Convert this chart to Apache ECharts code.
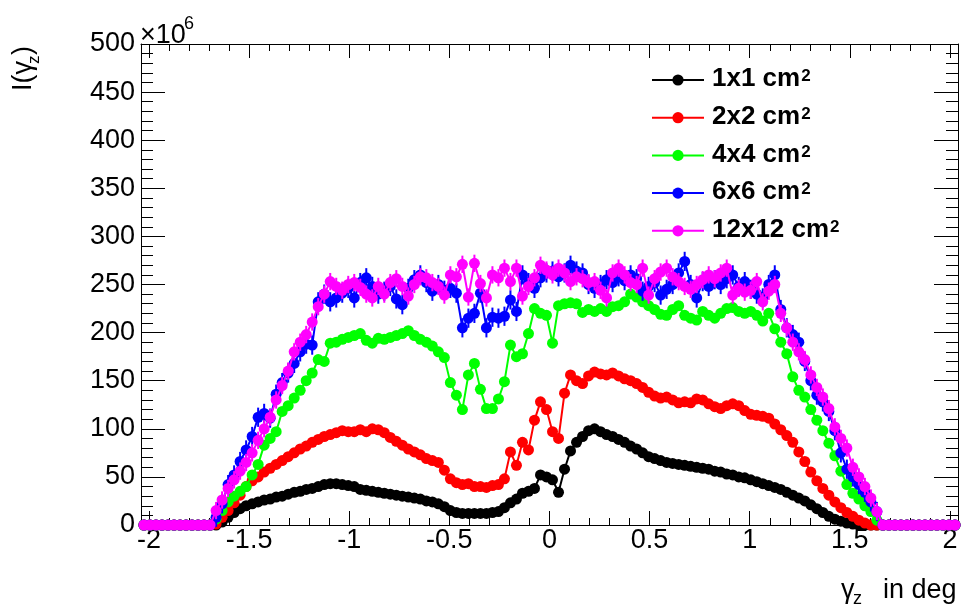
<!DOCTYPE html>
<html>
<head>
<meta charset="utf-8">
<script src="https://cdn.jsdelivr.net/npm/echarts@6/dist/echarts.min.js"></script>
<style>
  html, body { margin: 0; padding: 0; background: #ffffff; }
  #chart { width: 961px; height: 608px; }
</style>
</head>
<body>
<div id="chart"></div>
<script>
// bin centres: 136 bins of 0.03 deg over [-2.04, 2.04]
const gammaZ = [];
for (let i = 0; i < 136; i++) gammaZ.push(+(-2.025 + 0.03 * i).toFixed(3));

const xMajorTicks = [-2, -1.5, -1, -0.5, 0, 0.5, 1, 1.5, 2];
const xMinorTicks = [];
for (let k = -20; k <= 20; k++) if (k % 5 !== 0) xMinorTicks.push(k / 10);

const seriesNames = ['1x1 cm', '2x2 cm', '4x4 cm', '6x6 cm', '12x12 cm'];

// intensities in units of 1e6
const field1x1 = [
  0, 0, 0, 0, 0, 0, 0, 0, 0, 0, 0,
  0, 0, 3, 8, 13, 17, 20, 22, 24, 26,
  27, 29, 30, 32, 34, 35, 37, 38, 40, 42,
  43, 43, 42, 41, 40, 37, 36, 35, 34, 33,
  32, 31, 30, 29, 28, 27, 25, 24, 22, 19,
  15, 13, 12, 12, 12, 12, 12, 13, 14, 18,
  23, 27, 33, 35, 38, 52, 50, 47, 34, 58,
  77, 86, 92, 98, 100, 97, 94, 92, 89, 86,
  82, 79, 75, 71, 69, 67, 65, 64, 63, 62,
  61, 60, 59, 58, 56, 55, 53, 52, 50, 49,
  47, 45, 43, 41, 39, 37, 34, 31, 28, 25,
  21, 17, 13, 9, 6, 4, 2, 1, 0, 0,
  0, 0,
  0, 0, 0, 0, 0, 0, 0, 0, 0, 0, 0, 0, 0
];
const field2x2 = [
  0, 0, 0, 0, 0, 0, 0, 0, 0, 0, 0,
  0, 1, 8, 15, 23, 31, 40, 46, 50, 55,
  59, 63, 67, 71, 75, 79, 82, 86, 89, 92,
  94, 96, 98, 97, 97, 99, 97, 100, 99, 96,
  91, 87, 83, 79, 76, 73, 69, 67, 65, 57,
  48, 44, 42, 43, 40, 40, 39, 41, 42, 48,
  76, 62, 86, 78, 109, 128, 120, 97, 90, 137,
  156, 150, 147, 155, 159, 157, 156, 158, 155, 152,
  150, 147, 143, 138, 134, 132, 133, 130, 127, 128,
  127, 131, 130, 126, 123, 121, 124, 126, 124, 119,
  115, 114, 113, 111, 105, 99, 93, 86, 76, 66,
  55, 46, 38, 31, 24, 18, 13, 9, 5, 2,
  0, 0,
  0, 0, 0, 0, 0, 0, 0, 0, 0, 0, 0, 0, 0
];
const field4x4 = [
  0, 0, 0, 0, 0, 0, 0, 0, 0, 0, 0,
  0, 6, 15, 24, 30, 35, 40, 52, 63, 83,
  90, 97, 118, 124, 132, 140, 150, 158, 172, 170,
  189, 190, 193, 195, 197, 199, 192, 189, 194, 193,
  195, 197, 199, 202, 197, 193, 190, 186, 180, 174,
  148, 135, 120, 156, 168, 141, 121, 121, 131, 149,
  187, 175, 178, 199, 225, 220, 218, 189, 228, 230,
  231, 230, 221, 224, 222, 225, 222, 227, 228, 232,
  240, 237, 232, 228, 224, 219, 218, 224, 228, 218,
  215, 213, 222, 218, 215, 220, 225, 226, 222, 220,
  222, 218, 212, 220, 204, 190, 178, 154, 140, 133,
  120, 109, 98, 85, 72, 56, 42, 33, 27, 20,
  14, 5,
  0, 0, 0, 0, 0, 0, 0, 0, 0, 0, 0, 0, 0
];
const field6x6 = [
  0, 0, 0, 0, 0, 0, 0, 0, 0, 0, 0,
  0, 8, 22, 42, 52, 66, 78, 92, 112, 116,
  111, 136, 148, 158, 168, 180, 188, 187, 232, 240,
  232, 236, 241, 246, 236, 252, 257, 248, 240, 243,
  248, 235, 229, 246, 255, 260, 252, 243, 250, 244,
  246, 241, 205, 215, 220, 241, 205, 216, 215, 217,
  234, 222, 260, 252, 246, 257, 262, 264, 258, 262,
  270, 264, 262, 250, 246, 250, 255, 252, 258, 254,
  260, 256, 243, 248, 252, 239, 245, 250, 262, 274,
  250, 236, 253, 248, 255, 250, 256, 260, 248, 253,
  245, 240, 236, 250, 260, 224, 205, 198, 190, 170,
  150, 135, 128, 118, 98, 75, 58, 50, 42, 34,
  24, 14,
  0, 0, 0, 0, 0, 0, 0, 0, 0, 0, 0, 0, 0
];
const field12x12 = [
  0, 0, 0, 0, 0, 0, 0, 0, 0, 0, 0,
  0, 15, 26, 38, 47, 56, 65, 75, 88, 100,
  112, 130, 145, 160, 180, 190, 198, 211, 227, 240,
  253, 248, 244, 250, 252, 247, 240, 236, 248, 240,
  252, 256, 248, 238, 250, 258, 257, 252, 248, 239,
  260, 258, 271, 237, 272, 251, 236, 260, 257, 267,
  253, 267, 238, 248, 257, 270, 265, 260, 267, 262,
  253, 258, 256, 252, 253, 244, 236, 262, 267, 260,
  252, 250, 267, 239, 256, 263, 267, 258, 253, 248,
  245, 250, 255, 260, 256, 262, 267, 239, 246, 242,
  244, 253, 232, 243, 250, 220, 205, 190, 180, 172,
  156, 143, 133, 121, 102, 90, 80, 60, 50, 40,
  28, 14,
  0, 0, 0, 0, 0, 0, 0, 0, 0, 0, 0, 0, 0
];
// estimated statistical error (same units), only visible on the two largest fields
const statErr6x6 = 10;
const statErr12x12 = 9;

const allFields = [field1x1, field2x2, field4x4, field6x6, field12x12];
const allErrors = [0, 0, 0, statErr6x6, statErr12x12];
const colors = ['#000000', '#ff0000', '#00ff00', '#0000ff', '#ff00ff'];
const FONT = 'Liberation Sans, Arial, Helvetica, sans-serif';

const chart = echarts.init(document.getElementById('chart'), null, { renderer: 'canvas' });

function xAxisDef(pos, ticks, len, withLine, withLabel) {
  return {
    type: 'value', position: pos, min: -2.04, max: 2.04,
    axisLine: { show: withLine, onZero: false, lineStyle: { color: '#000', width: 1 } },
    axisTick: { show: true, inside: true, length: len, customValues: ticks, lineStyle: { color: '#000', width: 1 } },
    axisLabel: withLabel
      ? { show: true, customValues: ticks, fontSize: 27, color: '#000', fontFamily: FONT, margin: 2 }
      : { show: false },
    splitLine: { show: false }
  };
}

function yAxisDef(pos, withLabel) {
  return {
    type: 'value', position: pos, min: 0, max: 500, interval: 50,
    axisLine: { show: true, onZero: false, lineStyle: { color: '#000', width: 1 } },
    axisTick: { show: true, inside: true, length: 24, lineStyle: { color: '#000', width: 1 } },
    minorTick: { show: true, splitNumber: 5, length: 12, lineStyle: { color: '#000', width: 1 } },
    axisLabel: withLabel
      ? { show: true, fontSize: 27, color: '#000', fontFamily: FONT, margin: 6 }
      : { show: false },
    splitLine: { show: false },
    minorSplitLine: { show: false }
  };
}

const lineSeries = allFields.map((vals, s) => ({
  type: 'line',
  name: seriesNames[s],
  xAxisIndex: 0, yAxisIndex: 0,
  data: gammaZ.map((x, i) => [x, vals[i]]),
  symbol: 'circle', symbolSize: 11,
  showSymbol: true, showAllSymbol: true,
  lineStyle: { color: colors[s], width: 2 },
  itemStyle: { color: colors[s] },
  emphasis: { disabled: true },
  z: 2 + s
}));

const errorSeries = [3, 4].map(s => ({
  type: 'custom',
  xAxisIndex: 0, yAxisIndex: 0,
  silent: true,
  z: 2 + s,
  data: gammaZ.map((x, i) => [x, allFields[s][i]]).filter(d => d[1] > 0),
  renderItem: (params, api) => {
    const x = api.value(0), y = api.value(1);
    const top = api.coord([x, y + allErrors[s]]);
    const bot = api.coord([x, y - allErrors[s]]);
    return {
      type: 'line',
      shape: { x1: top[0], y1: top[1], x2: bot[0], y2: bot[1] },
      style: { stroke: colors[s], lineWidth: 2 }
    };
  }
}));

const option = {
  animation: false,
  backgroundColor: '#ffffff',
  grid: { left: 141, right: 3, top: 44, bottom: 83 },
  xAxis: [
    xAxisDef('bottom', xMajorTicks, 14, true, true),
    xAxisDef('bottom', xMinorTicks, 7, false, false),
    xAxisDef('top', xMajorTicks, 14, true, false),
    xAxisDef('top', xMinorTicks, 7, false, false)
  ],
  yAxis: [yAxisDef('left', true), yAxisDef('right', false)],
  legend: {
    orient: 'vertical', left: 646, top: 61,
    itemWidth: 52, itemHeight: 14, itemGap: 8.7,
    data: seriesNames,
    formatter: name => '{a|' + name + '}{s|2}',
    textStyle: {
      color: '#000', fontFamily: FONT, padding: [0, 0, 0, 3],
      rich: {
        a: { fontSize: 26, fontWeight: 'bold', color: '#000', fontFamily: FONT, lineHeight: 24, verticalAlign: 'bottom' },
        s: { fontSize: 17, fontWeight: 'bold', color: '#000', fontFamily: FONT, verticalAlign: 'top', lineHeight: 17, padding: [0, 0, 10, 1] }
      }
    }
  },
  series: errorSeries.concat(lineSeries),
  graphic: [
    { type: 'text', left: 140, top: 22, style: { text: '×10', font: '27px ' + FONT, fill: '#000' } },
    { type: 'text', x: 184, y: 15, style: { text: '6', font: '18px ' + FONT, fill: '#000' } },
    {
      type: 'group', x: 33, y: 91, rotation: Math.PI / 2,
      children: [
        { type: 'text', x: 0, y: -9, style: { text: 'I(γ', font: '27px ' + FONT, fill: '#000', verticalAlign: 'middle', align: 'left' } },
        { type: 'text', x: 27, y: 1, style: { text: 'z', font: '17px ' + FONT, fill: '#000', verticalAlign: 'middle', align: 'left' } },
        { type: 'text', x: 36, y: -9, style: { text: ')', font: '27px ' + FONT, fill: '#000', verticalAlign: 'middle', align: 'left' } }
      ]
    },
    { type: 'text', x: 841, y: 591, style: { text: 'γ', font: '27px ' + FONT, fill: '#000', verticalAlign: 'middle', align: 'left' } },
    { type: 'text', x: 853, y: 599, style: { text: 'z', font: '18px ' + FONT, fill: '#000', verticalAlign: 'middle', align: 'left' } },
    { type: 'text', x: 883, y: 591, style: { text: 'in deg', font: '27px ' + FONT, fill: '#000', verticalAlign: 'middle', align: 'left' } }
  ]
};

chart.setOption(option);
</script>
</body>
</html>
